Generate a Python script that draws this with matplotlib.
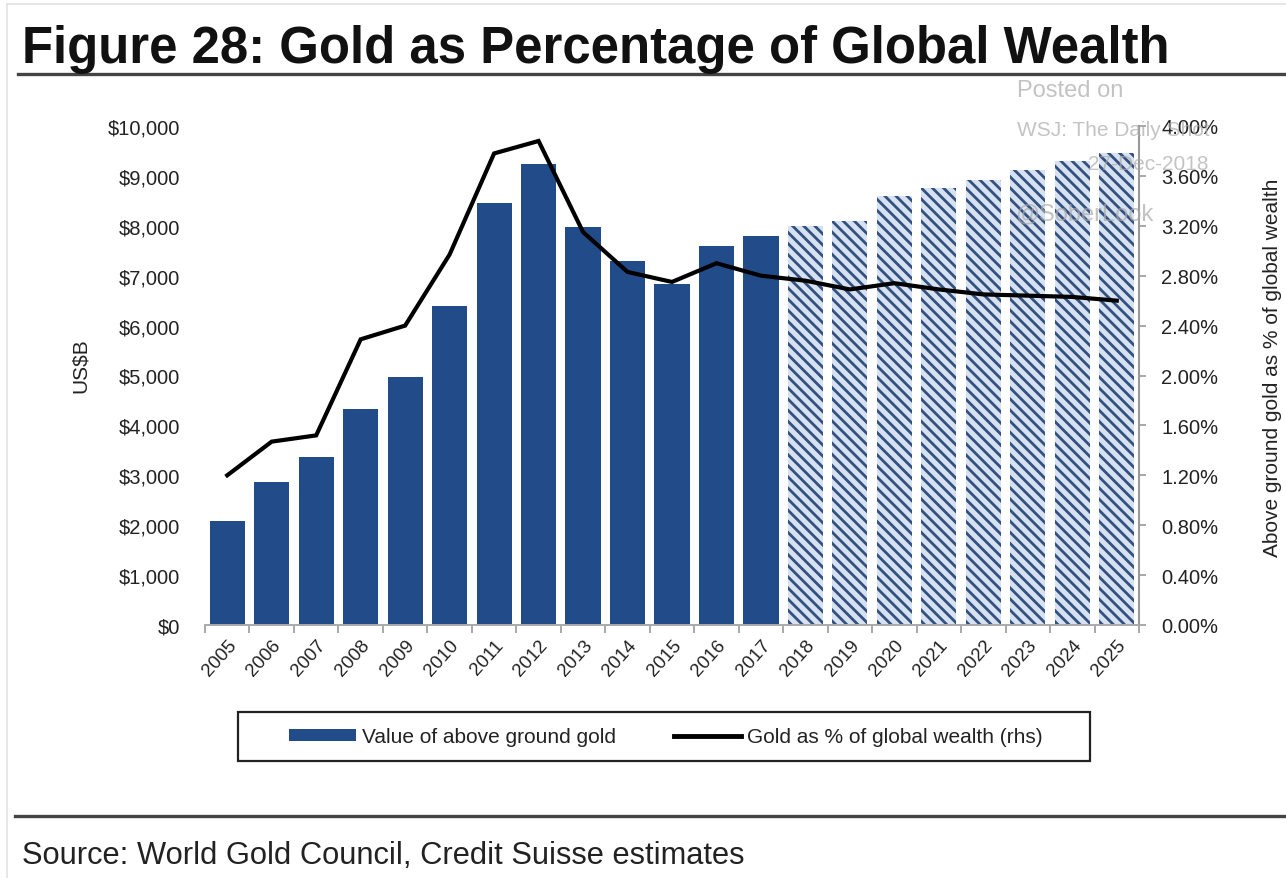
import matplotlib
matplotlib.use("Agg")
import matplotlib.pyplot as plt
from matplotlib.lines import Line2D
from matplotlib.patches import Rectangle, Patch
import numpy as np

years = [str(y) for y in range(2005, 2026)]
gold_value = [2080, 2870, 3370, 4330, 4960, 6400, 8450, 9230, 7980, 7300, 6840,
              7600, 7800, 8000, 8100, 8600, 8760, 8920, 9120, 9300, 9460]
gold_pct = [1.20, 1.47, 1.52, 2.29, 2.40, 2.97, 3.78, 3.88, 3.15, 2.83, 2.75,
            2.90, 2.80, 2.76, 2.69, 2.74, 2.69, 2.65, 2.64, 2.63, 2.60]
n_actual = 13  # 2005-2017 actual, rest estimates
left_ticks = [0, 1000, 2000, 3000, 4000, 5000, 6000, 7000, 8000, 9000, 10000]
right_ticks = [0.0, 0.4, 0.8, 1.2, 1.6, 2.0, 2.4, 2.8, 3.2, 3.6, 4.0]

plt.rcParams['font.family'] = ['Liberation Sans', 'DejaVu Sans']
plt.rcParams['hatch.linewidth'] = 2.0

W, H = 1286, 879
fig = plt.figure(figsize=(W / 100, H / 100), dpi=100)
fig.patch.set_facecolor('white')

ax = fig.add_axes([205 / W, 1 - 626 / H, (1139 - 205) / W, (626 - 127) / H])
ax2 = ax.twinx()

x = np.arange(len(years))
solid = '#224c89'
ax.bar(x[:n_actual], gold_value[:n_actual], width=0.79, color=solid, linewidth=0, zorder=2)
ax.bar(x[n_actual:], gold_value[n_actual:], width=0.79, facecolor='#d6e2f1',
       edgecolor='#34507f', hatch='\\\\\\', linewidth=0, zorder=2)

ax2.plot(x, gold_pct, color='black', linewidth=3.0, solid_joinstyle='miter', zorder=3)

ax.set_xlim(-0.5, len(years) - 0.5)
ax.set_ylim(0, 10000)
ax2.set_ylim(0, 4.0)

ax.set_yticks(left_ticks)
ax.set_yticklabels(['$' + format(v, ',') for v in left_ticks], fontsize=14.5, color='#222222')
ax.tick_params(axis='y', length=0, pad=18)

ax2.set_yticks(right_ticks)
ax2.set_yticklabels([f'{v:.2f}%' for v in right_ticks], fontsize=14.5, color='#222222')
ax2.tick_params(axis='y', length=5, width=1.2, color='#999999', pad=11, direction='out')

ax.set_xticks(x)
ax.set_xticklabels(years, rotation=48, ha='right', rotation_mode='anchor',
                   fontsize=13.5, color='#222222')
ax.tick_params(axis='x', length=0, pad=8)
ax.set_xticks(np.arange(-0.5, len(years), 1.0), minor=True)
ax.tick_params(axis='x', which='minor', length=6, width=1.2, color='#999999', direction='out')

for a in (ax, ax2):
    for s in ('top', 'left'):
        a.spines[s].set_visible(False)
    a.spines['bottom'].set_color('#aaaaaa')
    a.spines['bottom'].set_linewidth(1.2)
    a.patch.set_visible(False)
ax.spines['right'].set_visible(False)
ax2.spines['right'].set_color('#999999')
ax2.spines['right'].set_linewidth(1.5)

fig.text(80 / W, 1 - 366 / H, 'US$B', rotation=90, ha='center', va='center',
         fontsize=15, color='#222222')
fig.text(1272 / W, 1 - 368 / H, 'Above ground gold as % of global wealth', rotation=90,
         ha='center', va='center', fontsize=15, color='#222222')

# Title and rules
fig.text(22 / W, 1 - 63 / H, 'Figure 28: Gold as Percentage of Global Wealth',
         fontsize=36.6, fontweight='bold', ha='left', va='baseline', color='#111111')
fig.add_artist(Line2D([18 / W, 1.0], [1 - 75 / H] * 2, color='#444444', linewidth=2.4))
fig.add_artist(Line2D([15 / W, 1.0], [1 - 817 / H] * 2, color='#444444', linewidth=2.4))
fig.text(22 / W, 1 - 864 / H, 'Source: World Gold Council, Credit Suisse estimates',
         fontsize=22.2, ha='left', va='baseline', color='#222222')

# faint frame
fig.add_artist(Line2D([7 / W, 7 / W], [0, 1 - 5 / H], color='#e2e2e2', linewidth=1.2))
fig.add_artist(Line2D([7 / W, 1], [1 - 5 / H] * 2, color='#e2e2e2', linewidth=1.2))

# Legend box
fig.add_artist(Rectangle((238 / W, 1 - 762 / H), (1090 - 238) / W, (762 - 713) / H,
                         transform=fig.transFigure, fill=False, edgecolor='#222222',
                         linewidth=1.6))
handles = [Patch(facecolor=solid, edgecolor='none'),
           Line2D([0], [0], color='black', linewidth=3.5)]
labels = ['Value of above ground gold', 'Gold as % of global wealth (rhs)']
fig.legend(handles, labels, loc='center', bbox_to_anchor=(666 / W, 1 - 738 / H),
           ncol=2, frameon=False, fontsize=15, handlelength=3.2, handleheight=0.55,
           handletextpad=0.3, columnspacing=2.8, labelcolor='#222222')

# Watermark
wm = dict(color='#aaaaaa', alpha=0.7, fontsize=17, ha='left', va='baseline', zorder=10)
fig.text(1017 / W, 1 - 97 / H, 'Posted on', **wm)
fig.text(1017 / W, 1 - 136 / H, 'WSJ: The Daily Shot', **dict(wm, fontsize=15))
fig.text(1088 / W, 1 - 170 / H, '27-Dec-2018', **dict(wm, fontsize=15))
fig.text(1015 / W, 1 - 220 / H, '@SoberLook', **dict(wm, fontsize=17))

fig.savefig('out.png', dpi=100)
